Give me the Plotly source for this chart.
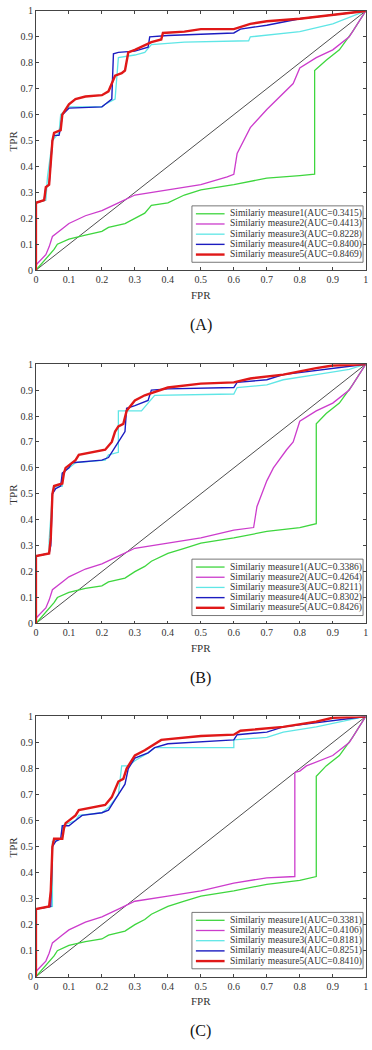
import plotly.graph_objects as go

# ---------------- data ----------------
measure_names = ["Similariy measure1", "Similariy measure2", "Similariy measure3",
                 "Similariy measure4", "Similariy measure5"]
panel_labels = ["(A)", "(B)", "(C)"]
auc_A = ["0.3415", "0.4413", "0.8228", "0.8400", "0.8469"]
auc_B = ["0.3386", "0.4264", "0.8211", "0.8302", "0.8426"]
auc_C = ["0.3381", "0.4106", "0.8181", "0.8251", "0.8410"]
tick_vals = [0, 0.1, 0.2, 0.3, 0.4, 0.5, 0.6, 0.7, 0.8, 0.9, 1]
tick_text = ["0", "0.1", "0.2", "0.3", "0.4", "0.5", "0.6", "0.7", "0.8", "0.9", "1"]

# Panel A
A1_fpr = [0, 0.02, 0.04, 0.055, 0.065, 0.1, 0.15, 0.2, 0.22, 0.27, 0.3, 0.33, 0.35, 0.4, 0.45, 0.5, 0.6, 0.7, 0.8, 0.845, 0.845, 0.88, 0.92, 0.96, 1]
A1_tpr = [0, 0.03, 0.06, 0.08, 0.1, 0.12, 0.135, 0.15, 0.165, 0.18, 0.2, 0.22, 0.25, 0.26, 0.29, 0.31, 0.33, 0.355, 0.365, 0.37, 0.77, 0.81, 0.85, 0.92, 1]
A2_fpr = [0, 0.03, 0.04, 0.05, 0.08, 0.1, 0.15, 0.2, 0.25, 0.3, 0.4, 0.5, 0.58, 0.6, 0.61, 0.65, 0.7, 0.75, 0.78, 0.8, 0.85, 0.9, 0.95, 1]
A2_tpr = [0.02, 0.06, 0.09, 0.13, 0.16, 0.18, 0.21, 0.23, 0.26, 0.29, 0.31, 0.33, 0.36, 0.37, 0.45, 0.55, 0.62, 0.68, 0.72, 0.78, 0.82, 0.85, 0.9, 1]
A3_fpr = [0, 0, 0.03, 0.035, 0.05, 0.07, 0.075, 0.1, 0.2, 0.21, 0.24, 0.25, 0.3, 0.33, 0.35, 0.45, 0.645, 0.65, 0.8, 0.9, 1]
A3_tpr = [0, 0.26, 0.27, 0.36, 0.5, 0.53, 0.6, 0.63, 0.63, 0.64, 0.66, 0.82, 0.83, 0.84, 0.87, 0.88, 0.885, 0.9, 0.92, 0.95, 1]
A4_fpr = [0, 0, 0.025, 0.03, 0.04, 0.045, 0.05, 0.055, 0.07, 0.075, 0.08, 0.1, 0.2, 0.21, 0.23, 0.235, 0.25, 0.3, 0.34, 0.345, 0.4, 0.6, 0.62, 0.7, 0.8, 0.9, 1]
A4_tpr = [0, 0.26, 0.27, 0.32, 0.33, 0.4, 0.5, 0.52, 0.52, 0.55, 0.6, 0.625, 0.63, 0.64, 0.66, 0.835, 0.84, 0.845, 0.86, 0.9, 0.905, 0.915, 0.93, 0.945, 0.97, 0.985, 1]
A5_fpr = [0, 0, 0.025, 0.03, 0.04, 0.045, 0.05, 0.055, 0.075, 0.08, 0.1, 0.12, 0.15, 0.2, 0.22, 0.23, 0.24, 0.26, 0.27, 0.28, 0.3, 0.35, 0.38, 0.385, 0.45, 0.5, 0.6, 0.65, 0.7, 0.8, 0.9, 0.95, 1]
A5_tpr = [0, 0.26, 0.27, 0.32, 0.33, 0.4, 0.5, 0.53, 0.54, 0.6, 0.64, 0.66, 0.67, 0.675, 0.69, 0.72, 0.75, 0.76, 0.77, 0.84, 0.85, 0.88, 0.89, 0.915, 0.92, 0.93, 0.93, 0.95, 0.96, 0.97, 0.985, 0.995, 1]

# Panel B
B1_fpr = [0, 0.02, 0.04, 0.055, 0.065, 0.1, 0.15, 0.2, 0.22, 0.27, 0.3, 0.33, 0.35, 0.4, 0.45, 0.5, 0.6, 0.7, 0.8, 0.85, 0.85, 0.88, 0.92, 0.96, 1]
B1_tpr = [0, 0.03, 0.06, 0.08, 0.1, 0.12, 0.135, 0.145, 0.16, 0.175, 0.2, 0.22, 0.24, 0.27, 0.29, 0.31, 0.33, 0.355, 0.37, 0.385, 0.77, 0.81, 0.85, 0.92, 1]
B2_fpr = [0, 0.03, 0.04, 0.05, 0.08, 0.1, 0.15, 0.2, 0.25, 0.3, 0.4, 0.5, 0.6, 0.66, 0.67, 0.7, 0.72, 0.76, 0.78, 0.8, 0.85, 0.9, 0.95, 1]
B2_tpr = [0.02, 0.06, 0.09, 0.13, 0.16, 0.18, 0.21, 0.23, 0.26, 0.29, 0.31, 0.33, 0.36, 0.37, 0.45, 0.55, 0.6, 0.67, 0.7, 0.78, 0.82, 0.85, 0.9, 1]
B3_fpr = [0, 0, 0.04, 0.04, 0.05, 0.06, 0.08, 0.08, 0.1, 0.12, 0.21, 0.22, 0.25, 0.25, 0.32, 0.34, 0.36, 0.6, 0.61, 0.7, 0.75, 0.85, 0.95, 1]
B3_tpr = [0, 0.26, 0.27, 0.32, 0.5, 0.53, 0.53, 0.58, 0.6, 0.62, 0.63, 0.65, 0.66, 0.82, 0.82, 0.85, 0.88, 0.885, 0.91, 0.92, 0.94, 0.96, 0.98, 1]
B4_fpr = [0, 0, 0.04, 0.045, 0.05, 0.06, 0.075, 0.08, 0.1, 0.11, 0.2, 0.22, 0.24, 0.26, 0.27, 0.275, 0.3, 0.34, 0.35, 0.4, 0.6, 0.61, 0.7, 0.75, 0.85, 0.95, 1]
B4_tpr = [0, 0.26, 0.27, 0.3, 0.5, 0.52, 0.53, 0.58, 0.6, 0.62, 0.63, 0.64, 0.68, 0.72, 0.74, 0.83, 0.84, 0.86, 0.9, 0.905, 0.91, 0.93, 0.94, 0.96, 0.975, 0.99, 1]
B5_fpr = [0, 0, 0.04, 0.045, 0.05, 0.055, 0.08, 0.085, 0.09, 0.12, 0.13, 0.17, 0.21, 0.23, 0.24, 0.25, 0.265, 0.275, 0.3, 0.33, 0.4, 0.5, 0.6, 0.65, 0.75, 0.85, 0.9, 1]
B5_tpr = [0, 0.26, 0.27, 0.33, 0.5, 0.53, 0.54, 0.58, 0.6, 0.63, 0.65, 0.66, 0.67, 0.7, 0.74, 0.76, 0.77, 0.82, 0.86, 0.88, 0.91, 0.925, 0.93, 0.945, 0.96, 0.985, 0.995, 1]

# Panel C
C1_fpr = [0, 0.02, 0.04, 0.055, 0.065, 0.1, 0.15, 0.2, 0.22, 0.27, 0.3, 0.33, 0.35, 0.4, 0.45, 0.5, 0.6, 0.7, 0.8, 0.85, 0.85, 0.88, 0.92, 0.96, 1]
C1_tpr = [0, 0.03, 0.06, 0.08, 0.1, 0.12, 0.135, 0.145, 0.16, 0.175, 0.2, 0.22, 0.24, 0.27, 0.29, 0.31, 0.33, 0.355, 0.37, 0.385, 0.77, 0.81, 0.85, 0.92, 1]
C2_fpr = [0, 0.03, 0.04, 0.05, 0.08, 0.1, 0.15, 0.2, 0.25, 0.3, 0.4, 0.5, 0.6, 0.7, 0.785, 0.785, 0.8, 0.82, 0.9, 0.95, 1]
C2_tpr = [0.02, 0.06, 0.09, 0.13, 0.16, 0.18, 0.21, 0.23, 0.26, 0.29, 0.31, 0.33, 0.36, 0.38, 0.385, 0.785, 0.79, 0.81, 0.85, 0.9, 1]
C3_fpr = [0, 0, 0.05, 0.05, 0.08, 0.08, 0.12, 0.13, 0.2, 0.22, 0.25, 0.26, 0.28, 0.3, 0.34, 0.36, 0.6, 0.6, 0.7, 0.75, 0.85, 0.95, 1]
C3_tpr = [0, 0.26, 0.27, 0.52, 0.53, 0.58, 0.6, 0.62, 0.63, 0.65, 0.7, 0.81, 0.81, 0.83, 0.86, 0.88, 0.88, 0.91, 0.92, 0.94, 0.96, 0.985, 1]
C4_fpr = [0, 0, 0.045, 0.05, 0.06, 0.075, 0.08, 0.1, 0.12, 0.14, 0.2, 0.22, 0.24, 0.26, 0.27, 0.28, 0.3, 0.34, 0.36, 0.4, 0.6, 0.61, 0.7, 0.75, 0.85, 0.95, 1]
C4_tpr = [0, 0.26, 0.27, 0.5, 0.52, 0.53, 0.58, 0.58, 0.6, 0.62, 0.63, 0.64, 0.68, 0.72, 0.74, 0.8, 0.84, 0.86, 0.88, 0.895, 0.91, 0.93, 0.94, 0.96, 0.975, 0.99, 1]
C5_fpr = [0, 0, 0.04, 0.045, 0.05, 0.055, 0.08, 0.085, 0.09, 0.12, 0.13, 0.17, 0.21, 0.23, 0.24, 0.25, 0.265, 0.275, 0.3, 0.33, 0.38, 0.5, 0.6, 0.62, 0.75, 0.85, 0.9, 1]
C5_tpr = [0, 0.26, 0.27, 0.33, 0.5, 0.53, 0.53, 0.57, 0.59, 0.62, 0.64, 0.65, 0.66, 0.69, 0.72, 0.75, 0.76, 0.8, 0.85, 0.87, 0.91, 0.925, 0.93, 0.945, 0.96, 0.98, 0.995, 1]

diag_x = [0, 1]
diag_y = [0, 1]

# ---------------- styling ----------------
W, H = 372, 1050
colors = ["#3ed63e", "#cc3ccc", "#5fe6e6", "#1c1cc0", "#e01818"]
widths = [1.3, 1.3, 1.3, 1.4, 2.4]
FONT = "Liberation Serif, Times New Roman, serif"
AXC = "#444444"

# pixel geometry of each panel: (top, bottom)
panels_px = [(6, 268), (363, 625), (719, 982)]
x_left, x_right = 34.3, 367.7

def py(p):
    return 1 - p / H

def px(p):
    return p / W

series = [
    ([A1_fpr, A2_fpr, A3_fpr, A4_fpr, A5_fpr], [A1_tpr, A2_tpr, A3_tpr, A4_tpr, A5_tpr], auc_A),
    ([B1_fpr, B2_fpr, B3_fpr, B4_fpr, B5_fpr], [B1_tpr, B2_tpr, B3_tpr, B4_tpr, B5_tpr], auc_B),
    ([C1_fpr, C2_fpr, C3_fpr, C4_fpr, C5_fpr], [C1_tpr, C2_tpr, C3_tpr, C4_tpr, C5_tpr], auc_C),
]

fig = go.Figure()
annotations = []
shapes = []
layout_axes = {}

for k, (xs, ys, aucs) in enumerate(series):
    top, bot = panels_px[k]
    xa = "x" if k == 0 else f"x{k+1}"
    ya = "y" if k == 0 else f"y{k+1}"
    # diagonal reference line
    fig.add_trace(go.Scatter(x=diag_x, y=diag_y, mode="lines", xaxis=xa, yaxis=ya,
                             line=dict(color="#222222", width=0.8), showlegend=False,
                             hoverinfo="skip"))
    for i in range(5):
        fig.add_trace(go.Scatter(x=xs[i], y=ys[i], mode="lines", xaxis=xa, yaxis=ya,
                                 name=f"{measure_names[i]}(AUC={aucs[i]})",
                                 line=dict(color=colors[i], width=widths[i]),
                                 showlegend=False))
    common = dict(range=[0, 1], tickvals=tick_vals, ticktext=tick_text,
                  ticks="inside", ticklen=3, tickwidth=0.8, tickcolor=AXC,
                  showline=True, linecolor=AXC, linewidth=0.8, mirror="ticks",
                  showgrid=False, zeroline=False, fixedrange=True,
                  tickfont=dict(family=FONT, size=10, color="#333333"))
    xkey = "xaxis" if k == 0 else f"xaxis{k+1}"
    ykey = "yaxis" if k == 0 else f"yaxis{k+1}"
    layout_axes[xkey] = dict(common, domain=[px(x_left), px(x_right)], anchor=ya)
    layout_axes[ykey] = dict(common, domain=[py(bot), py(top)], anchor=xa)

    # axis titles and panel label
    annotations.append(dict(text="TPR", x=px(11), y=py((top + bot) / 2), xref="paper", yref="paper",
                            textangle=-90, showarrow=False, xanchor="center", yanchor="middle",
                            font=dict(family=FONT, size=11, color="#333333")))
    annotations.append(dict(text="FPR", x=px((x_left + x_right) / 2), y=py(bot + 25), xref="paper",
                            yref="paper", showarrow=False, xanchor="center", yanchor="middle",
                            font=dict(family=FONT, size=11, color="#333333")))
    annotations.append(dict(text=panel_labels[k], x=px((x_left + x_right) / 2), y=py(bot + 55),
                            xref="paper", yref="paper", showarrow=False, xanchor="center",
                            yanchor="middle", font=dict(family=FONT, size=16, color="#111111")))

    # custom legend box (MATLAB style)
    lx0, lx1 = 192, 365
    ly1 = bot - 8
    ly0 = ly1 - 57
    shapes.append(dict(type="rect", xref="paper", yref="paper", x0=px(lx0), x1=px(lx1),
                       y0=py(ly1), y1=py(ly0), line=dict(color="#555555", width=0.8),
                       fillcolor="white", layer="above"))
    for i in range(5):
        yy = ly0 + 8 + i * 10.3
        shapes.append(dict(type="line", xref="paper", yref="paper", x0=px(196), x1=px(225),
                           y0=py(yy), y1=py(yy), line=dict(color=colors[i], width=widths[i]),
                           layer="above"))
        annotations.append(dict(text=f"{measure_names[i]}(AUC={aucs[i]})", x=px(228), y=py(yy),
                                xref="paper", yref="paper", showarrow=False, xanchor="left",
                                yanchor="middle",
                                font=dict(family=FONT, size=9.5, color="#333333")))

fig.update_layout(width=W, height=H, margin=dict(l=0, r=0, t=0, b=0),
                  paper_bgcolor="white", plot_bgcolor="white", showlegend=False,
                  annotations=annotations, shapes=shapes, **layout_axes)

fig.write_html("out.html", config={"displayModeBar": False},
               post_script="document.body.style.margin='0';document.body.style.overflow='hidden';")
